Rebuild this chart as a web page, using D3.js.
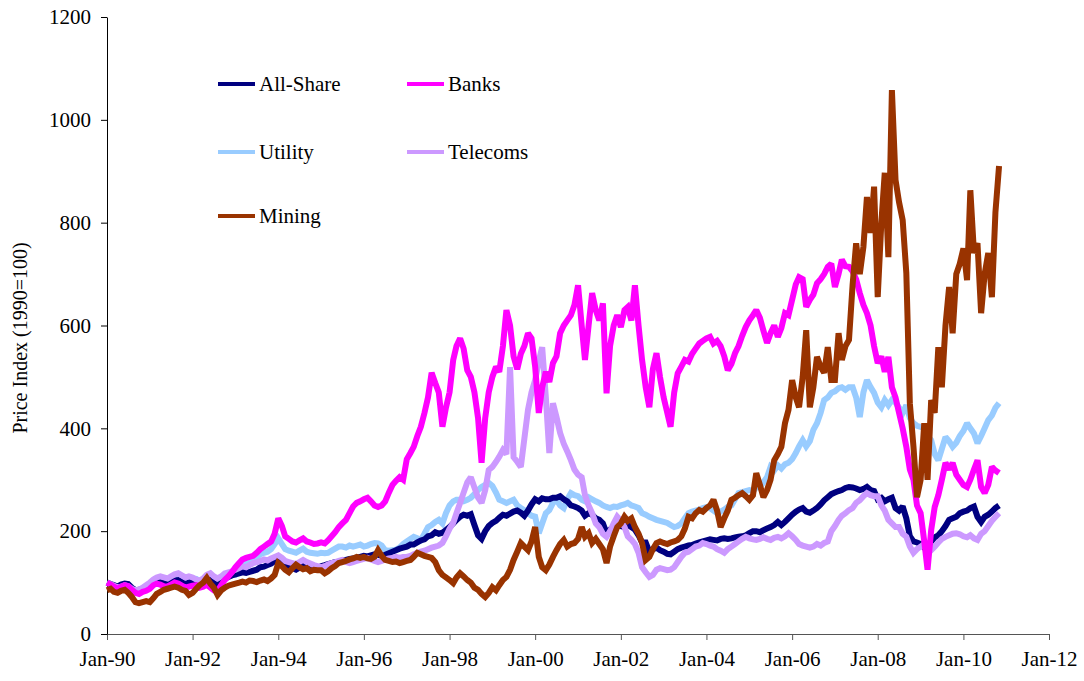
<!DOCTYPE html>
<html>
<head>
<meta charset="utf-8">
<script src="https://cdn.jsdelivr.net/npm/d3@7"></script>
<style>
  body { margin: 0; background: #fff; }
  #chart svg, #chart svg text { font-family: "Liberation Serif", "DejaVu Serif", serif !important; }
</style>
</head>
<body>
<div id="chart"></div>
<script>
// Monthly index values, Jan 1990 .. Nov 2010 (1990 = 100)
const allShare = [
  100, 97, 95, 92, 96, 98, 97, 90, 85, 86, 88, 88,
  92, 98, 102, 101, 99, 98, 101, 104, 105, 101, 97, 100,
  103, 104, 101, 106, 110, 104, 98, 95, 102, 107, 111, 114,
  116, 118, 120, 119, 121, 123, 125, 130, 131, 134, 137, 142,
  145, 141, 133, 132, 128, 125, 129, 133, 128, 129, 128, 127,
  132, 134, 136, 138, 140, 140, 143, 144, 146, 147, 148, 150,
  152, 151, 153, 155, 154, 152, 154, 157, 160, 163, 166, 168,
  170, 174, 174, 178, 182, 184, 190, 192, 198, 195, 197, 202,
  208, 215, 222, 228, 232, 230, 233, 212, 192, 185, 200, 210,
  216, 220, 226, 232, 230, 234, 238, 240, 236, 230, 240, 252,
  262, 258, 264, 262, 262, 265, 265, 268, 262, 258, 250, 248,
  245, 240, 230, 235, 232, 225, 222, 215, 196, 203, 208, 210,
  210, 208, 212, 208, 203, 192, 178, 178, 160, 165, 168, 163,
  160, 156, 155, 160, 165, 168, 170, 172, 173, 176, 178, 180,
  182, 184, 183, 182, 185, 186, 185, 186, 188, 189, 190, 192,
  196, 200, 200, 198, 202, 205, 208, 212, 218, 212, 218, 225,
  232, 238, 242, 245, 238, 236, 240, 245, 252, 260, 266, 272,
  275, 278, 280, 284, 286, 285, 283, 280, 282, 286, 280, 278,
  262, 265, 258, 262, 265, 245, 240, 248, 225, 190, 180, 178,
  175, 168, 170, 180, 188, 192, 200, 210, 222, 225, 228, 235,
  238, 240, 245, 248, 228, 218, 228, 232, 238, 245, 250
];

const banks = [
  100, 96, 92, 88, 92, 95, 93, 86, 80, 78, 82, 84,
  88, 95, 98, 96, 93, 92, 96, 100, 98, 94, 90, 92,
  94, 95, 90, 92, 96, 90, 85, 84, 95, 105, 112, 120,
  130, 138, 145, 148, 150, 152, 158, 165, 170, 175, 180, 195,
  225, 210, 190, 185, 180, 178, 182, 186, 180, 178, 175, 176,
  178, 176, 182, 190, 198, 208, 215, 222, 235, 248, 255, 258,
  262, 265, 258, 250, 247, 250, 258, 275, 290, 298, 305, 300,
  340, 352, 364, 385, 403, 430, 460, 508, 488, 470, 403, 440,
  470, 533, 560, 575, 555, 513, 500, 470, 420, 333, 420, 470,
  500, 520, 510, 560, 630, 600, 540, 515, 545, 560, 585, 575,
  520, 430, 480, 510, 490, 527, 540, 585, 600, 610, 620, 640,
  678, 600, 533, 600, 663, 630, 610, 643, 468, 560, 600, 620,
  597, 630, 636, 610, 678, 600, 533, 480, 441, 515, 546, 500,
  460, 430, 403, 470, 507, 520, 533, 530, 545, 555, 565, 570,
  575, 578, 565, 570, 560, 540, 513, 525, 546, 560, 580, 597,
  610, 620, 630, 615, 590, 566, 585, 600, 578, 595, 624, 620,
  650, 680, 694, 690, 636, 650, 660, 682, 690, 700, 714, 720,
  675, 700, 728, 715, 714, 705, 690, 663, 640, 624, 600, 560,
  527, 540, 510, 539, 480, 460, 430, 400, 364, 320, 300, 250,
  235, 180, 125, 202, 247, 270, 300, 333, 320, 333, 310, 300,
  290, 286, 300, 320, 338, 286, 274, 290, 325, 318, 313
];

const utility = [
  100, 97, 93, 90, 93, 95, 92, 86, 82, 82, 86, 90,
  95, 100, 104, 106, 104, 103, 106, 110, 110, 107, 104, 106,
  108, 107, 103, 106, 110, 106, 100, 98, 104, 110, 112, 115,
  115, 122, 130, 138, 144, 145, 150, 155, 158, 160, 165, 175,
  186, 175, 165, 162, 160, 158, 162, 166, 160, 158, 157, 156,
  158, 157, 158, 162, 166, 170, 170, 168, 172, 170, 172, 174,
  170, 172, 175, 177, 176, 172, 163, 162, 163, 164, 168, 175,
  180, 185, 189, 186, 183, 195, 208, 212, 218, 222, 215, 235,
  250, 258, 261, 261, 258, 261, 265, 272, 280, 286, 290, 294,
  288, 275, 261, 258, 255, 258, 261, 250, 245, 241, 235, 230,
  228, 196, 215, 235, 241, 255, 261, 250, 245, 262, 274, 270,
  268, 261, 258, 266, 262, 258, 255, 250, 247, 245, 248, 247,
  250, 252, 255, 250, 248, 245, 235, 232, 228, 225, 222, 220,
  218, 216, 212, 208, 210, 215, 225, 235, 238, 240, 242, 245,
  247, 245, 240, 235, 238, 242, 247, 250, 262, 274, 276, 278,
  280, 278, 285, 286, 295, 305, 325, 318, 328, 322, 330, 333,
  340, 352, 365, 377, 365, 375, 397, 410, 430, 455, 460, 469,
  472, 478, 480, 475, 480, 480, 460, 422, 470, 494, 480, 469,
  450, 441, 455, 445, 455, 450, 440, 430, 445, 420, 410, 405,
  403, 400, 385, 377, 350, 338, 360, 383, 375, 364, 372, 385,
  395, 410, 400, 390, 371, 385, 400, 416, 425, 440, 449
];

const telecoms = [
  100, 97, 94, 90, 92, 95, 93, 88, 85, 86, 90, 95,
  100, 106, 110, 112, 110, 108, 112, 116, 118, 114, 110, 112,
  110, 106, 104, 108, 115, 118, 112, 108, 112, 118, 120, 122,
  125, 128, 132, 130, 134, 138, 140, 142, 145, 143, 147, 150,
  153, 148, 142, 140, 138, 136, 140, 144, 140, 137, 134, 132,
  130, 132, 135, 138, 140, 142, 144, 140, 138, 140, 142, 144,
  146, 148, 145, 142, 140, 142, 145, 147, 148, 150, 148, 150,
  150, 152, 155, 158, 160, 162, 165, 168, 170, 172, 177, 190,
  205, 216, 235, 255, 275, 295, 305, 285, 265, 255, 280, 319,
  325, 335, 345, 358, 350, 519, 344, 335, 325, 380, 436, 470,
  494, 530, 558, 461, 352, 449, 422, 391, 370, 355, 338, 320,
  310, 305, 270, 250, 235, 215, 208, 195, 189, 200, 215, 228,
  220, 208, 190, 183, 175, 158, 130, 120, 111, 115, 125, 128,
  126, 124, 125, 130, 140, 150, 158, 160, 165, 170, 172, 177,
  175, 172, 170, 165, 162, 158, 165, 170, 175, 180, 185, 189,
  186, 184, 183, 185, 188, 185, 183, 187, 189, 186, 190, 196,
  190, 183, 175, 172, 170, 168, 170, 175, 172, 177, 180, 200,
  210, 222, 230, 235, 241, 245, 255, 260, 268, 274, 270, 268,
  268, 250, 240, 222, 215, 208, 208, 195, 189, 170, 158, 165,
  170, 175, 165, 163, 170, 178, 185, 189, 192, 195, 196, 194,
  190, 188, 192, 186, 183, 195, 200, 210, 220, 228, 235
];

const mining = [
  85, 88, 82, 80, 84, 86, 80, 72, 62, 60, 62, 64,
  62, 70, 78, 82, 86, 88, 90, 92, 90, 86, 84, 76,
  80, 88, 95, 100, 109, 98, 90, 76, 85, 90, 94, 96,
  98, 100, 102, 100, 104, 103, 101, 104, 106, 103, 108, 115,
  138, 132, 125, 120, 128, 135, 130, 126, 128, 122, 125, 124,
  124, 118, 122, 128, 132, 138, 140, 142, 145, 147, 150, 148,
  150, 147, 146, 150, 163, 152, 144, 142, 140, 141, 138, 140,
  142, 144, 150, 158, 155, 152, 150, 148, 140, 124, 115, 110,
  105, 99, 110, 118, 112, 105, 100, 90, 86, 78, 72, 80,
  91, 85, 95, 105, 111, 125, 144, 160, 177, 170, 163, 180,
  208, 150, 130, 124, 135, 150, 163, 175, 183, 170, 175, 177,
  185, 208, 189, 196, 177, 185, 175, 165, 138, 170, 190, 208,
  215, 228, 220, 225, 208, 195, 177, 144, 150, 165, 177, 180,
  177, 175, 178, 180, 183, 190, 205, 228, 225, 235, 241, 238,
  245, 250, 261, 240, 208, 225, 240, 261, 265, 270, 274, 268,
  261, 270, 313, 290, 266, 280, 300, 338, 350, 364, 410, 436,
  494, 460, 441, 500, 591, 441, 480, 539, 520, 508, 558, 494,
  494, 585, 533, 560, 572, 680, 760, 700, 753, 850, 780, 870,
  655, 800, 897, 733, 1058, 883, 840, 805, 702, 449, 364, 266,
  300, 410, 300, 455, 430, 558, 480, 600, 675, 585, 700, 720,
  750, 688, 863, 741, 760, 624, 700, 741, 655, 820, 910
];

const seriesNames = ["All-Share", "Banks", "Utility", "Telecoms", "Mining"];
const seriesColors = ["#000080", "#ff00ff", "#99ccff", "#cc99ff", "#993300"];
const yTicks = [0, 200, 400, 600, 800, 1000, 1200];

const width = 1084, height = 681;
const months = d3.timeMonth.range(new Date(1990, 0, 1), new Date(2010, 11, 1));

const series = [
  { name: "All-Share", values: allShare },
  { name: "Banks", values: banks },
  { name: "Utility", values: utility },
  { name: "Telecoms", values: telecoms },
  { name: "Mining", values: mining }
];
const color = d3.scaleOrdinal().domain(seriesNames).range(seriesColors);

const svg = d3.select("#chart")
  .append("svg")
  .attr("width", width)
  .attr("height", height);

const x = d3.scaleTime()
  .domain([new Date(1990, 0, 1), new Date(2012, 0, 1)])
  .range([107, 1049]);

const y = d3.scaleLinear()
  .domain([0, 1200])
  .range([634, 17]);

// Axes
const xAxis = d3.axisBottom(x)
  .ticks(d3.timeYear.every(2))
  .tickFormat(d3.timeFormat("Jan-%y"))
  .tickSize(6)
  .tickSizeOuter(0)
  .tickPadding(11);

const gx = svg.append("g")
  .attr("transform", "translate(0,634)")
  .call(xAxis)
  .attr("font-size", 21);
gx.select(".domain").attr("stroke", "#555").attr("d", "M101,0.5H1049");
gx.selectAll(".tick line").attr("stroke", "#555");
gx.selectAll("text").attr("fill", "#000");

const yAxis = d3.axisLeft(y)
  .tickValues(yTicks)
  .tickFormat(d3.format("d"))
  .tickSize(6)
  .tickSizeOuter(0)
  .tickPadding(10);

const gy = svg.append("g")
  .attr("transform", "translate(107,0)")
  .call(yAxis)
  .attr("font-size", 21);
gy.select(".domain").attr("stroke", "#000");
gy.selectAll("text").attr("fill", "#000");

svg.append("text")
  .attr("transform", "translate(27,338) rotate(-90)")
  .attr("text-anchor", "middle")
  .attr("font-size", 20)
  .text("Price Index (1990=100)");

// Lines
const line = d3.line()
  .x((d, i) => x(months[i]))
  .y(d => y(d));

const drawOrder = ["Utility", "All-Share", "Telecoms", "Banks", "Mining"];
drawOrder.forEach(name => {
  const s = series.find(d => d.name === name);
  svg.append("path")
    .datum(s.values)
    .attr("fill", "none")
    .attr("stroke", color(name))
    .attr("stroke-width", 6)
    .attr("stroke-linejoin", "miter")
    .attr("stroke-miterlimit", 2)
    .attr("d", line);
});

// Legend
const legendPos = [
  { name: "All-Share", lx: 218, ly: 84 },
  { name: "Banks", lx: 407, ly: 84 },
  { name: "Utility", lx: 218, ly: 152 },
  { name: "Telecoms", lx: 407, ly: 152 },
  { name: "Mining", lx: 218, ly: 216 }
];

const legend = svg.append("g").attr("class", "legend");
legend.selectAll("line")
  .data(legendPos)
  .join("line")
  .attr("x1", d => d.lx)
  .attr("x2", d => d.lx + 37)
  .attr("y1", d => d.ly)
  .attr("y2", d => d.ly)
  .attr("stroke", d => color(d.name))
  .attr("stroke-width", 4);

legend.selectAll("text")
  .data(legendPos)
  .join("text")
  .attr("x", d => d.lx + 41)
  .attr("y", d => d.ly)
  .attr("dy", "0.35em")
  .attr("font-size", 21)
  .text(d => d.name);
</script>
</body>
</html>
